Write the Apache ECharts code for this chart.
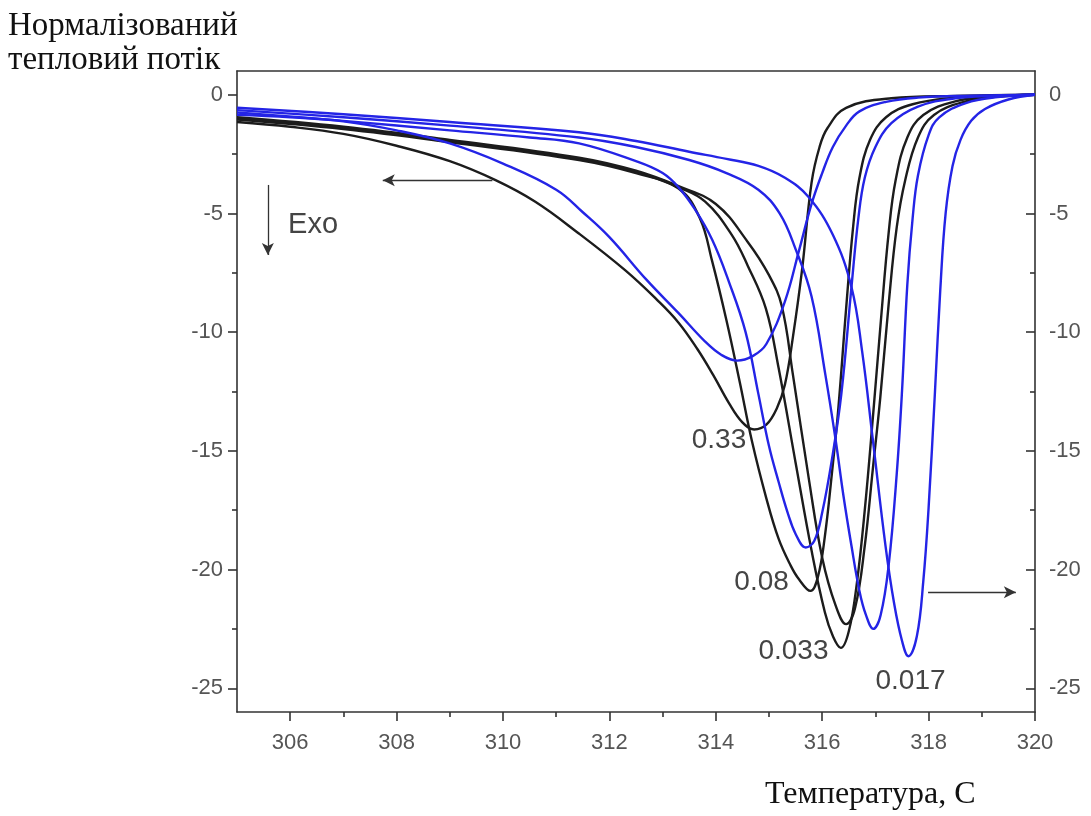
<!DOCTYPE html>
<html>
<head>
<meta charset="utf-8">
<script src="https://cdn.jsdelivr.net/npm/echarts@6/dist/echarts.min.js"></script>
<style>
  html, body { margin: 0; padding: 0; background: #fff; }
  #chart { width: 1091px; height: 816px; }
</style>
</head>
<body>
<div id="chart"></div>
<script>
// ---------------- дані (температура, нормалізований тепловий потік) ----------------
// чорні криві - ліва вісь
const blackA = [[305,-1.15],[306,-1.35],[307,-1.65],[308,-2.15],[309,-2.8],[309.86,-3.6],[310.6,-4.5],[311.4,-5.8],[312.3,-7.4],[312.9,-8.65],[313.3,-9.6],[313.65,-10.7],[313.95,-11.8],[314.25,-13.0],[314.5,-13.8],[314.72,-14.1],[314.95,-13.9],[315.15,-13.2],[315.3,-12.2],[315.45,-10.2],[315.62,-7.4],[315.8,-3.7],[315.95,-2.2],[316.1,-1.4],[316.45,-0.55],[317.3,-0.15],[318.5,-0.05],[320,0]];
const blackB = [[305,-1.05],[307,-1.45],[309,-2.0],[311.43,-2.75],[312.5,-3.3],[313.3,-3.95],[313.7,-5.2],[313.93,-7.0],[314.2,-9.5],[314.45,-12.1],[314.68,-14.6],[314.95,-17.0],[315.18,-18.7],[315.4,-19.8],[315.56,-20.4],[315.78,-20.9],[315.92,-20.3],[316.05,-18.6],[316.18,-16.0],[316.3,-13.3],[316.45,-9.0],[316.58,-5.6],[316.7,-3.5],[316.9,-1.9],[317.2,-0.95],[317.7,-0.4],[318.5,-0.12],[319.3,-0.04],[320,0]];
const blackC = [[305,-1.0],[307,-1.4],[309,-1.95],[311.43,-2.7],[312.5,-3.25],[313.3,-3.9],[313.8,-4.5],[314.3,-5.9],[314.6,-7.2],[314.94,-9.0],[315.18,-11.5],[315.5,-15.5],[315.8,-19.2],[316.05,-21.8],[316.2,-22.8],[316.35,-23.3],[316.5,-22.6],[316.65,-20.6],[316.8,-17.5],[316.96,-13.4],[317.1,-9.6],[317.25,-5.8],[317.38,-3.6],[317.6,-1.8],[317.9,-0.85],[318.5,-0.28],[319.2,-0.08],[320,0]];
const blackD = [[305,-0.95],[307,-1.35],[309,-1.9],[311.43,-2.65],[312.5,-3.2],[313.3,-3.85],[314.0,-4.6],[314.6,-6.2],[315.0,-7.6],[315.24,-8.9],[315.45,-11.8],[315.75,-16.2],[316.0,-19.5],[316.25,-21.5],[316.45,-22.3],[316.62,-21.6],[316.8,-19.0],[316.95,-15.8],[317.09,-12.8],[317.25,-8.8],[317.4,-5.6],[317.56,-3.6],[317.8,-1.8],[318.1,-0.85],[318.7,-0.28],[319.3,-0.08],[320,0]];
// сині криві - права вісь
const blueE = [[305,-0.85],[306,-0.95],[307,-1.12],[308,-1.5],[309,-2.05],[310,-2.9],[311,-4.0],[311.5,-4.95],[312,-6.0],[312.7,-7.8],[313.3,-9.2],[313.8,-10.4],[314.1,-10.95],[314.4,-11.2],[314.7,-11.0],[314.95,-10.5],[315.3,-8.7],[315.56,-6.6],[315.8,-4.6],[316.0,-3.3],[316.2,-2.2],[316.45,-1.3],[316.7,-0.7],[317.2,-0.3],[317.8,-0.12],[318.8,-0.04],[320,0]];
const blueC = [[305,-0.75],[307,-1.1],[309,-1.5],[310.5,-1.8],[311.43,-2.05],[312.5,-2.8],[313.0,-3.3],[313.3,-3.9],[313.6,-4.8],[313.93,-6.1],[314.25,-7.9],[314.56,-10.0],[314.8,-12.6],[315.0,-14.8],[315.18,-16.3],[315.35,-17.6],[315.5,-18.5],[315.69,-19.07],[315.85,-18.8],[316.0,-17.6],[316.18,-15.4],[316.36,-12.6],[316.55,-8.1],[316.68,-5.2],[316.8,-3.5],[317.0,-2.2],[317.3,-1.2],[317.8,-0.5],[318.5,-0.15],[319.3,-0.05],[320,0]];
const blueF = [[305,-0.65],[307,-0.95],[309,-1.3],[311.43,-1.8],[312.5,-2.2],[313.5,-2.75],[314.2,-3.3],[314.8,-4.0],[315.2,-5.0],[315.5,-6.5],[315.8,-8.5],[316.06,-11.8],[316.25,-14.5],[316.4,-16.9],[316.55,-19.0],[316.7,-20.9],[316.82,-21.9],[316.96,-22.5],[317.1,-21.9],[317.25,-19.8],[317.4,-16.0],[317.5,-12.5],[317.6,-8.0],[317.7,-5.2],[317.8,-3.4],[318.0,-1.7],[318.2,-0.95],[318.7,-0.35],[319.3,-0.1],[320,0]];
const blueG = [[305,-0.55],[307,-0.82],[309,-1.15],[311.43,-1.58],[312.5,-1.95],[313.5,-2.4],[314.2,-2.7],[314.8,-3.0],[315.3,-3.5],[315.74,-4.3],[316.2,-5.9],[316.55,-8.1],[316.75,-10.8],[316.95,-14.5],[317.19,-19.0],[317.35,-21.4],[317.5,-23.0],[317.62,-23.65],[317.78,-22.8],[317.9,-20.5],[318.0,-17.4],[318.12,-12.5],[318.22,-8.2],[318.32,-5.0],[318.45,-3.0],[318.6,-1.9],[318.8,-1.1],[319.06,-0.6],[319.5,-0.2],[320,0]];

// поділки осей
const xMajor = [306, 308, 310, 312, 314, 316, 318, 320];
const xMinor = [307, 309, 311, 313, 315, 317, 319];
const yMajor = [-25, -20, -15, -10, -5, 0];
const yMinor = [-22.5, -17.5, -12.5, -7.5, -2.5];

// підписи швидкостей нагріву
const rateLabels = ['0.33', '0.08', '0.033', '0.017'];
const rateLabelAt = [[314.06, -14.57], [314.86, -20.54], [315.46, -23.44], [317.66, -24.7]];

var chart = echarts.init(document.getElementById('chart'));

const axisColor = '#333';
const tickFont = { fontFamily: '"Liberation Sans", Arial, sans-serif', fontSize: 22, color: '#555' };

function xAx(extra) {
    return Object.assign({
        type: 'value', min: 305, max: 320, position: 'bottom',
        axisLine: { show: false, onZero: false, lineStyle: { color: axisColor, width: 1.6 } },
        axisTick: { show: false },
        axisLabel: { show: false },
        splitLine: { show: false }
    }, extra);
}
function yAx(extra) {
    return Object.assign({
        type: 'value', min: -26, max: 1, position: 'left',
        axisLine: { show: false, onZero: false, lineStyle: { color: axisColor, width: 1.6 } },
        axisTick: { show: false },
        axisLabel: { show: false },
        splitLine: { show: false }
    }, extra);
}
const tickStyle = { color: axisColor, width: 1.6 };

function curve(name, data, color, yIdx) {
    return {
        name: name, type: 'line', data: data, xAxisIndex: 0, yAxisIndex: yIdx,
        showSymbol: false, smooth: 0.4, silent: true,
        lineStyle: { color: color, width: 2.4 }, z: yIdx === 0 ? 3 : 4
    };
}

const black = '#1c1c1c';
const blue = '#2424e6';

const series = [
    curve('0.33', blackA, black, 0),
    curve('0.08', blackB, black, 0),
    curve('0.033', blackC, black, 0),
    curve('0.017', blackD, black, 0),
    curve('b0.33', blueE, blue, 2),
    curve('b0.08', blueC, blue, 2),
    curve('b0.033', blueF, blue, 2),
    curve('b0.017', blueG, blue, 2)
];

// стрілки та підписи
series[0].markLine = {
    silent: true, animation: false,
    symbol: ['none', 'arrow'], symbolSize: [9, 12],
    lineStyle: { color: '#333', width: 1.3, type: 'solid' },
    label: { show: false },
    data: [
        [{ coord: [309.8, -3.6] }, { coord: [307.74, -3.6] }],
        [{ coord: [305.58, -3.8] }, { coord: [305.58, -6.75] }],
        [{ coord: [317.99, -20.96] }, { coord: [319.64, -20.96] }]
    ]
};
series[0].markPoint = {
    silent: true, animation: false,
    symbol: 'circle', symbolSize: 0,
    label: {
        show: true, position: 'inside',
        fontFamily: '"Liberation Sans", Arial, sans-serif', fontSize: 28, color: '#444',
        formatter: function (p) { return p.name; }
    },
    data: rateLabels.map(function (t, i) { return { name: t, coord: rateLabelAt[i] }; })
        .concat([{ name: 'Exo', coord: [306.43, -5.48], label: { fontSize: 29 } }])
};

var option = {
    animation: false,
    backgroundColor: '#fff',
    grid: { left: 237, right: 56, top: 71, bottom: 104, containLabel: false },
    xAxis: [
        xAx({
            axisLine: { show: true, onZero: false, lineStyle: { color: axisColor, width: 1.6 } },
            axisTick: { show: true, customValues: xMajor, length: 9, lineStyle: tickStyle },
            axisLabel: Object.assign({ show: true, customValues: xMajor, margin: 20 }, tickFont)
        }),
        xAx({ axisTick: { show: true, customValues: xMinor, length: 5, lineStyle: tickStyle } }),
        xAx({ position: 'top', axisLine: { show: true, onZero: false, lineStyle: { color: axisColor, width: 1.6 } } })
    ],
    yAxis: [
        yAx({
            axisLine: { show: true, onZero: false, lineStyle: { color: axisColor, width: 1.6 } },
            axisTick: { show: true, customValues: yMajor, length: 9, lineStyle: tickStyle },
            axisLabel: Object.assign({ show: true, customValues: yMajor, margin: 14 }, tickFont)
        }),
        yAx({ axisTick: { show: true, customValues: yMinor, length: 5, lineStyle: tickStyle } }),
        yAx({
            position: 'right',
            axisLine: { show: true, onZero: false, lineStyle: { color: axisColor, width: 1.6 } },
            axisTick: { show: true, inside: true, customValues: yMajor, length: 9, lineStyle: tickStyle },
            axisLabel: Object.assign({ show: true, customValues: yMajor, margin: 14 }, tickFont)
        }),
        yAx({ position: 'right', axisTick: { show: true, inside: true, customValues: yMinor, length: 5, lineStyle: tickStyle } })
    ],
    graphic: [
        {
            type: 'text', left: 8, top: 9, silent: true,
            style: {
                text: 'Нормалізований\nтепловий потік',
                font: '33px "Liberation Serif", "Times New Roman", serif',
                lineHeight: 34, fill: '#111'
            }
        },
        {
            type: 'text', left: 765, top: 779, silent: true,
            style: {
                text: 'Температура, С',
                font: '32px "Liberation Serif", "Times New Roman", serif',
                fill: '#111'
            }
        }
    ],
    series: series
};

chart.setOption(option);
</script>
</body>
</html>
